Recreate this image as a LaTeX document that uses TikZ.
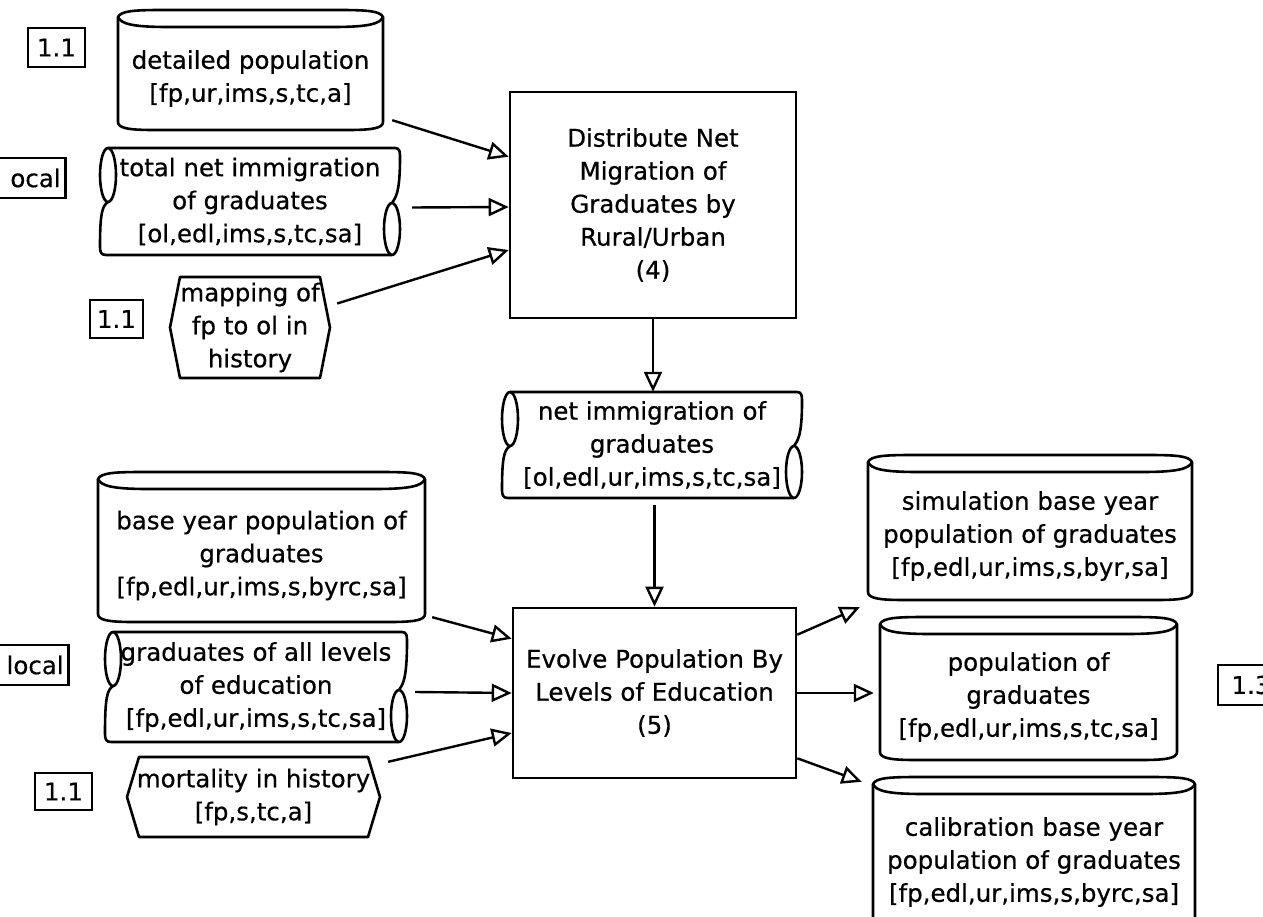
\documentclass[tikz,border=0pt]{standalone}
\usepackage{fontspec}
\setmainfont{DejaVu Sans}[FakeBold=0.5]
\usetikzlibrary{arrows.meta,calc}
\newcommand{\cylshape}[4]{%
 \draw[shp] (#1,#2+7) .. controls (#1+3,#2+1) and (#1+15,#2) .. (#1+45,#2) -- (#3-45,#2) .. controls (#3-15,#2) and (#3-3,#2+1) .. (#3,#2+7)
   .. controls (#3-3,#2+14) and (#3-15,#2+17) .. (#3-50,#2+17) -- (#1+50,#2+17) .. controls (#1+15,#2+17) and (#1+3,#2+14) .. (#1,#2+7) -- cycle;
 \draw[shp] (#1,#2+7) -- (#1,#4-8) .. controls (#1,#4-2) and (#1+10,#4) .. (#1+35,#4) -- (#3-35,#4) .. controls (#3-10,#4) and (#3,#4-2) .. (#3,#4-8) -- (#3,#2+7);
}
\newcommand{\cylnode}[6]{%
 \cylshape{#2}{#3}{#4}{#5}
 \pgfmathsetmacro{\cw}{#4-#2}\pgfmathsetmacro{\ch}{#5-#3-17}
 \node[txt, minimum width=\cw pt, minimum height=\ch pt] (#1) at ({(#2+#4)/2},{(#3+17+#5)/2}) {#6};
}
\newcommand{\scrollnode}[6]{%
 \draw[shp] (#2+8,#3) -- (#4-5,#3) .. controls (#4,#3) and (#4,#3+4) .. (#4,#3+10)
   .. controls (#4,#5-60) and (#4-5,#5-57) .. (#4-8,#5-52);
 \draw[shp] (#4-8,#5-26) ellipse [x radius=8pt, y radius=26pt];
 \draw[shp] (#4-8,#5) -- (#2+6,#5) .. controls (#2+1,#5) and (#2,#5-3) .. (#2,#5-8)
   .. controls (#2,#3+66) and (#2+2,#3+58) .. (#2+8,#3+54);
 \draw[shp] (#2+8,#3+27) ellipse [x radius=8pt, y radius=27pt];
 \pgfmathsetmacro{\cw}{#4-#2}\pgfmathsetmacro{\ch}{#5-#3}
 \node[txt, minimum width=\cw pt, minimum height=\ch pt] (#1) at ({(#2+#4)/2},{(#3+#5)/2}) {#6};
}
\newcommand{\hexnode}[7]{%
 \draw[shp] (#2+#7,#3) -- (#4-#7,#3) -- (#4,{(#3+#5)/2}) -- (#4-#7,#5) -- (#2+#7,#5) -- (#2,{(#3+#5)/2}) -- cycle;
 \pgfmathsetmacro{\cw}{#4-#2}\pgfmathsetmacro{\ch}{#5-#3}
 \node[txt, minimum width=\cw pt, minimum height=\ch pt] (#1) at ({(#2+#4)/2},{(#3+#5)/2}) {#6};
}
\begin{document}
\begin{tikzpicture}[x=1pt,y=-1pt,
  shp/.style={line width=2.6pt, line join=round},
  txt/.style={inner sep=0pt, align=center, font=\fontsize{24.5}{33}\selectfont},
  procbox/.style={draw, line width=2.6pt, inner sep=0pt, align=center, font=\fontsize{24.5}{33}\selectfont},
  tagbox/.style={draw, line width=2.6pt, inner sep=5pt, minimum height=39pt, align=center, font=\fontsize{24.5}{30}\selectfont},
  arr/.style={line width=2.4pt, -{Triangle[open,length=20pt,width=18pt]}}]
\useasboundingbox (0,0) rectangle (1263,917);
\clip (0,0) rectangle (1263,917);
\fill[white] (0,0) rectangle (1263,917);

% tags
\node[tagbox, minimum width=57pt] (t1) at (56.5,47.5) {1.1};
\node[tagbox, text width=70pt, align=right, anchor=east, minimum height=40pt] (loc1) at (67,178) {ocal};
\node[tagbox, minimum width=53pt, minimum height=38pt] (t2) at (116.5,319) {1.1};
\node[tagbox, text width=70pt, align=right, anchor=east, minimum height=40pt] (loc2) at (70,665) {local};
\node[tagbox, minimum width=57pt, minimum height=37pt] (t3) at (63.5,791.5) {1.1};
\node[tagbox, minimum width=66pt, minimum height=40pt] (t4) at (1251,685) {1.3};

% stores
\cylnode{dp}{118}{10}{383}{130}{detailed population\\{}[fp,ur,ims,s,tc,a]}
\scrollnode{tni}{100}{148}{400}{255}{total net immigration\\of graduates\\{}[ol,edl,ims,s,tc,sa]}
\hexnode{map}{170}{277}{330}{378}{mapping of\\fp to ol in\\history}{10}
\scrollnode{ni}{502}{392}{802}{498}{net immigration of\\graduates\\{}[ol,edl,ur,ims,s,tc,sa]}
\cylnode{by}{98}{472}{425}{622}{base year population of\\graduates\\{}[fp,edl,ur,ims,s,byrc,sa]}
\scrollnode{gal}{105}{632}{407}{742}{graduates of all levels\\of education\\{}[fp,edl,ur,ims,s,tc,sa]}
\hexnode{mort}{127}{757}{380}{837}{mortality in history\\{}[fp,s,tc,a]}{12}
\cylnode{sby}{868}{455}{1192}{600}{simulation base year\\population of graduates\\{}[fp,edl,ur,ims,s,byr,sa]}
\cylnode{pop}{880}{617}{1177}{760}{population of\\graduates\\{}[fp,edl,ur,ims,s,tc,sa]}
\cylnode{cby}{873}{777}{1195}{930}{calibration base year\\population of graduates\\{}[fp,edl,ur,ims,s,byrc,sa]}

% processes
\node[procbox, minimum width=286pt, minimum height=226pt] (box4) at (653,205) {\rule{0pt}{14pt}Distribute Net\\Migration of\\Graduates by\\Rural/Urban\\(4)};
\node[procbox, minimum width=283pt, minimum height=170pt] (ev) at (654.5,693) {Evolve Population By\\Levels of Education\\(5)};

% connectors
\draw[arr] ($(dp.south east)+(9,-10)$) -- ($(box4.north west)+(0,66)$);
\draw[arr] ($(tni.east)+(12,6)$) -- ($(box4.west)+(0,2)$);
\draw[arr] ($(map.east)+(7,-24)$) -- ($(box4.west)+(0,45)$);
\draw[arr] (box4.south) -- (ni.north -| box4.south);
\draw[arr] ($(ni.south -| ev.north)+(0,7)$) -- (ev.north);
\draw[arr] ($(by.south east)+(7,-5)$) -- ($(ev.north west)+(0,32)$);
\draw[arr] ($(gal.east)+(8,5)$) -- (ev.west);
\draw[arr] ($(mort.north east)+(8,5)$) -- ($(ev.west)+(0,40)$);
\draw[arr] ($(ev.north east)+(0,28)$) -- ($(sby.south west)+(-8,7)$);
\draw[arr] (ev.east) -- ($(ev.east -| pop.west)+(-6,0)$);
\draw[arr] ($(ev.south east)+(0,-21)$) -- ($(cby.north west)+(-11,-12)$);
\end{tikzpicture}
\end{document}
